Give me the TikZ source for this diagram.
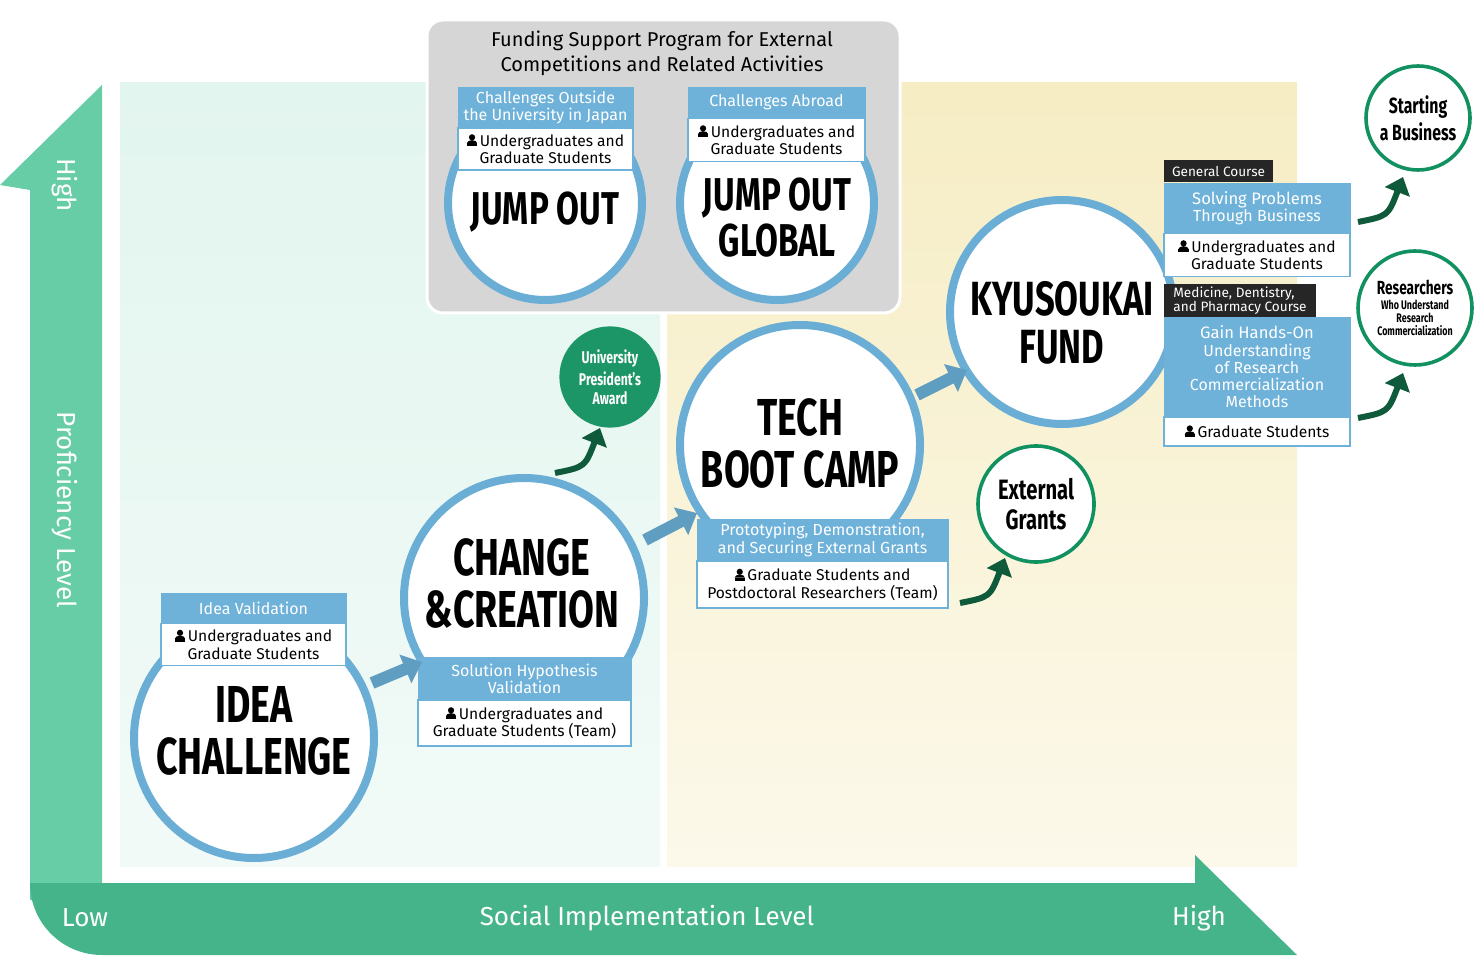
\documentclass[tikz,border=0pt]{standalone}
\usepackage{fontspec}
\setmainfont{Fira Sans}
\usetikzlibrary{arrows.meta}
\definecolor{axisg}{HTML}{4CC496}
\definecolor{mint}{HTML}{E2F5EE}
\definecolor{cream}{HTML}{F6EDC4}
\definecolor{ringb}{HTML}{6AAED6}
\definecolor{hdrb}{HTML}{6EB1D9}
\definecolor{darkg}{HTML}{0F5A3A}
\definecolor{ringg}{HTML}{11915F}
\definecolor{boxgray}{HTML}{D6D6D6}
\newcommand*{\usr}{\tikz[baseline=0pt]{\fill (0,0.58em) circle (0.2em); \fill (-0.33em,0) rectangle (0.33em,0.2em); \fill (-0.33em,0.2em) arc (180:0:0.33em and 0.2em);}\,}
\newcommand*{\ttl}[1]{\scalebox{0.72}[1]{\bfseries #1}}
\tikzset{
  ring/.style={circle, draw=ringb, line width=4pt, fill=white, align=center, inner sep=0pt},
  title/.style={align=center, font=\fontsize{#1}{#1}\selectfont},
  hdr/.style={fill=hdrb, draw=hdrb, text=white, align=center, inner sep=1pt, font=\fontsize{8}{8.6}\selectfont},
  body/.style={fill=white, draw=hdrb, line width=0.8pt, align=center, inner sep=1pt, font=\fontsize{7.8}{8.6}\selectfont},
  tag/.style={fill=black!85, text=white, align=left, inner sep=1pt, font=\fontsize{6.8}{7.2}\selectfont},
  goal/.style={circle, draw=ringg, line width=1.8pt, fill=white, align=center, inner sep=0pt},
  barrow/.style={draw=ringb!90!black, line width=6pt, -{Triangle[length=9pt,width=15pt]}},
  garrow/.style={draw=darkg, line width=3pt, -{Triangle[length=8pt,width=13pt]}},
  axislab/.style={text=white, font=\fontsize{13}{13}\selectfont}
}
\begin{document}
\begin{tikzpicture}[x=0.5pt,y=-0.5pt]
  \useasboundingbox (0,0) rectangle (1475,956);
  % backgrounds
  \shade[top color=mint, bottom color=mint!45] (120,83) rectangle (660,866);
  \shade[top color=cream, bottom color=cream!35] (667,83) rectangle (1297,866);
  % axes
  \fill[axisg!85!white] (30,190) -- (0,185) -- (102,85) -- (102,900) -- (30,900) -- cycle;
  \fill[axisg!92!black] (30,883) -- (1195,883) -- (1195,855) -- (1297,955) -- (102,955)
     arc (270:180:36pt) -- cycle;
  \fill[axisg!85!white] (30,190) rectangle (102,883);
  \node[axislab, rotate=-90] (yhigh) at (65,185) {High};
  \node[axislab, rotate=-90] (ylab) at (65,510) {Proficiency Level};
  \node[axislab] (xlow) at (85,918) {Low};
  \node[axislab] (xlab) at (647,918) {Social Implementation Level};
  \node[axislab] (xhigh) at (1199,918) {High};
  % funding box
  \fill[boxgray, draw=white, line width=1.5pt, rounded corners=8pt] (427,20) rectangle (900,313);
  \node[align=center, font=\fontsize{10}{12.5}\selectfont] (fund) at (662,53)
     {Funding Support Program for External\\Competitions and Related Activities};
  % rings
  \node[ring, minimum size=97pt] (jo) at (545,203) {};
  \node[ring, minimum size=97pt] (jog) at (777,203) {};
  \node[ring, minimum size=112pt] (ky) at (1062,312) {};
  \node[ring, minimum size=120pt] (tbc) at (800,445) {};
  \node[ring, minimum size=120pt] (cc) at (524,598) {};
  \node[ring, minimum size=120pt] (ic) at (254,738) {};
  \node[title=23] (jot) at (545,212) {\ttl{JUMP OUT}};
  \node[title=23] (jogt) at (777,218) {\ttl{JUMP OUT}\\\ttl{GLOBAL}};
  \node[title=24] (kyt) at (1062,323) {\ttl{KYUSOUKAI}\\\ttl{FUND}};
  \node[title=26] (tbct) at (800,443) {\ttl{TECH}\\\ttl{BOOT CAMP}};
  \node[title=26] (cct) at (522,583) {\ttl{CHANGE}\\\ttl{\&CREATION}};
  \node[title=26] (ict) at (254,731) {\ttl{IDEA}\\\ttl{CHALLENGE}};
  % labels
  \node[hdr, minimum width=87.5pt, minimum height=20.5pt] (joh) at (545.5,107.5) {Challenges Outside\\the University in Japan};
  \node[body, minimum width=87.5pt, minimum height=21pt] (job) at (545.5,149) {\usr Undergraduates and\\Graduate Students};
  \node[hdr, minimum width=88.5pt, minimum height=15.5pt] (jogh) at (776.5,102.5) {Challenges Abroad};
  \node[body, minimum width=88.5pt, minimum height=21.5pt] (jogb) at (776.5,140) {\usr Undergraduates and\\Graduate Students};
  \node[hdr, minimum width=92.5pt, minimum height=15pt] (ivh) at (253.5,608) {Idea Validation};
  \node[body, minimum width=92.5pt, minimum height=21pt] (ivb) at (253.5,644.5) {\usr Undergraduates and\\Graduate Students};
  \node[hdr, minimum width=106.5pt, minimum height=21.5pt] (shh) at (524.5,678.5) {Solution Hypothesis\\Validation};
  \node[body, minimum width=106.5pt, minimum height=23pt] (shb) at (524.5,723) {\usr Undergraduates and\\Graduate Students (Team)};
  \node[hdr, minimum width=125.5pt, minimum height=21pt] (tbh) at (822.5,540) {Prototyping, Demonstration,\\and Securing External Grants};
  \node[body, minimum width=125.5pt, minimum height=23.5pt] (tbb) at (822.5,584.5) {\usr Graduate Students and\\Postdoctoral Researchers (Team)};
  \node[tag, minimum width=54.5pt, minimum height=11pt] (gct) at (1218.5,171) {General Course};
  \node[hdr, minimum width=93pt, minimum height=25pt] (gch) at (1257,208) {\fontsize{8.3}{9}\selectfont Solving Problems\\Through Business};
  \node[body, minimum width=93pt, minimum height=21.5pt] (gcb) at (1257,255) {\usr Undergraduates and\\Graduate Students};
  \node[tag, minimum width=76pt, minimum height=16.5pt] (mdt) at (1240,300.5) {Medicine, Dentistry,\\and Pharmacy Course};
  \node[hdr, minimum width=93pt, minimum height=50pt] (mdh) at (1257,367) {\fontsize{8.3}{9}\selectfont Gain Hands-On\\Understanding\\of Research\\Commercialization\\Methods};
  \node[body, minimum width=93pt, minimum height=14.5pt] (mdb) at (1257,431.5) {\usr Graduate Students};
  % goals
  \node[circle, fill=ringg!95!white, minimum size=50pt, text=white, title=8.5] (upa) at (610,377)
     {\ttl{University}\\[1pt]\ttl{President's}\\[1pt]\ttl{Award}};
  \node[goal, minimum size=58pt, title=14] (eg) at (1036,504) {\ttl{External}\\[1pt]\ttl{Grants}};
  \node[goal, minimum size=52pt, title=11] (sb) at (1418,118) {\ttl{Starting}\\[1pt]\ttl{a Business}};
  \node[goal, minimum size=57pt, align=center, font=\fontsize{6.2}{6.6}\selectfont] (rs) at (1415,308)
     {\fontsize{9.5}{10}\selectfont\ttl{Researchers}\\[1pt]\ttl{Who Understand}\\\ttl{Research}\\\ttl{Commercialization}};
  % block arrows
  \coordinate (a1s) at (372,683); \coordinate (a1e) at (422,662);
  \coordinate (a2s) at (645,540); \coordinate (a2e) at (697,513);
  \coordinate (a3s) at (917,395); \coordinate (a3e) at (967,370);
  \draw[barrow] (a1s) -- (a1e);
  \draw[barrow] (a2s) -- (a2e);
  \draw[barrow] (a3s) -- (a3e);
  % curved arrows
  \foreach \n/\x/\y in {g1/555/473, g2/960/603, g3/1358/222, g4/1358/418} {
    \coordinate (\n) at (\x,\y);
    \coordinate (\n e) at (\x+45,\y-45);
    \draw[garrow] (\n) .. controls (\x+30,\y-6) .. (\n e);
  }
\end{tikzpicture}
\end{document}
